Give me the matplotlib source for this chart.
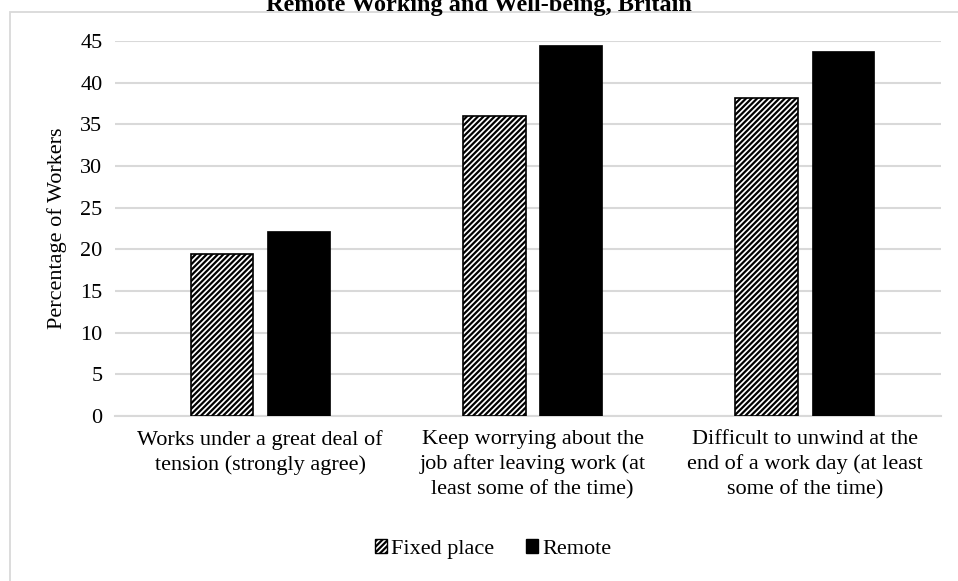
import matplotlib
matplotlib.use("Agg")
import matplotlib.pyplot as plt
from matplotlib.patches import Rectangle, Patch
import numpy as np

categories = [
    "Works under a great deal of\ntension (strongly agree)",
    "Keep worrying about the\njob after leaving work (at\nleast some of the time)",
    "Difficult to unwind at the\nend of a work day (at least\nsome of the time)",
]
fixed_place = [19.4, 36.0, 38.1]
remote = [22.2, 44.5, 43.8]
series_names = ["Fixed place", "Remote"]
yticks = [0, 5, 10, 15, 20, 25, 30, 35, 40, 45]
title = "Remote Working and Well-being, Britain"
ylabel = "Percentage of Workers"

plt.rcParams['font.family'] = ['Liberation Serif', 'DejaVu Serif']
plt.rcParams['hatch.linewidth'] = 1.6

W, H = 958, 581
FS = 16
fig = plt.figure(figsize=(W / 100, H / 100), dpi=100)

# chart frame
fig.patches.append(Rectangle((9.5 / W, -0.1), 1.2, 1 - 12.5 / H + 0.1,
                             transform=fig.transFigure, fill=False,
                             edgecolor='#d9d9d9', linewidth=1.3, zorder=0))

left, right, top, bottom = 115, 941, 41, 416
ax = fig.add_axes([left / W, 1 - bottom / H, (right - left) / W, (bottom - top) / H])

x = np.arange(len(categories))
bw = 0.23
off = 0.14
ax.bar(x - off, fixed_place, bw, facecolor='white', edgecolor='black',
       hatch='//////', linewidth=1.2, zorder=3)
ax.bar(x + off, remote, bw, color='black', edgecolor='black', linewidth=0.5, zorder=3)

ext = 9 / 272.2
ax.set_xlim(-0.5 - ext, 2.5)
ax.set_ylim(0, 45)
ax.set_yticks(yticks)
ax.set_yticklabels([str(v) for v in yticks], fontsize=FS)
ax.set_xticks(x)
ax.set_xticklabels(categories, fontsize=FS, linespacing=1.38)
ax.tick_params(length=0)
ax.tick_params(axis='y', pad=9)
ax.tick_params(axis='x', pad=10)
ax.grid(axis='y', color='#d9d9d9', linewidth=1.5, zorder=0)
for s in ['top', 'right', 'left']:
    ax.spines[s].set_visible(False)
ax.spines['bottom'].set_color('#d9d9d9')
ax.spines['bottom'].set_linewidth(1.5)

fig.text(57 / W, 1 - 228 / H, ylabel, rotation=90, ha='center', va='center', fontsize=FS)
fig.text(0.5, 1 - 11 / H, title, ha='center', va='baseline', fontsize=17.5, fontweight='bold')

handles = [Patch(facecolor='white', edgecolor='black', hatch='//////', linewidth=1.0),
           Patch(facecolor='black', edgecolor='black')]
fig.legend(handles, series_names, loc='center', bbox_to_anchor=(493 / W, 1 - 549 / H),
           ncol=2, frameon=False, fontsize=FS, handlelength=0.55, handleheight=0.55,
           handletextpad=0.2, columnspacing=1.4)

fig.savefig("out.png", dpi=100)
